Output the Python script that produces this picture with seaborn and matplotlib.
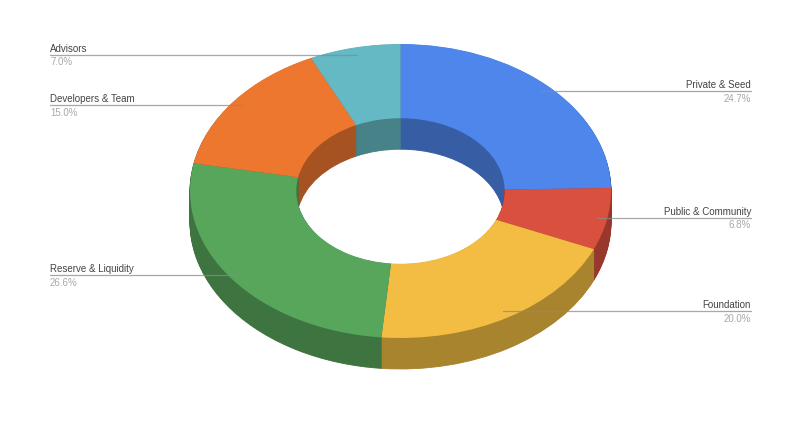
import numpy as np
import seaborn as sns
from matplotlib import pyplot as plt

categories = ['Private & Seed', 'Public & Community', 'Foundation', 'Reserve & Liquidity', 'Developers & Team', 'Advisors']
shares = [24.7, 6.8, 20.0, 26.6, 15.0, 7.0]
colors = ['#4F86EC', '#D9503F', '#F2BD42', '#58A55C', '#ED772F', '#65B9C4']

sns.set_theme(style='white')
plt.rcParams['font.family'] = ['Liberation Sans', 'DejaVu Sans']

# unit circle maps on to the ellipse of the top face
cx, cy, rx, ry = 400.5, 192, 210.5, 147
W, H = 800, 431
depth = 31 / ry

palette = sns.color_palette(colors)
dark = [tuple(c * 0.7 for c in col) for col in palette]

fig = plt.figure(figsize=(W / 100, H / 100), dpi=100)
ax = fig.add_axes([0, 0, 1, 1])

# side walls: stack of dark rings going up to the top face
for off in np.linspace(depth, 0, 40)[:-1]:
    wedges, _ = ax.pie(shares, colors=dark, startangle=90, counterclock=False, center=(0, -off),
                       wedgeprops={'width': 0.505, 'linewidth': 0.6})
    for w in wedges:
        w.set_edgecolor(w.get_facecolor())
ax.pie(shares, colors=palette, startangle=90, counterclock=False,
       wedgeprops={'width': 0.505, 'linewidth': 0})

ax.set_aspect('auto')
ax.set_xlim((0 - cx) / rx, (W - cx) / rx)
ax.set_ylim((cy - H) / ry, cy / ry)

# leader lines and labels
total = sum(shares)
mids = (np.cumsum(shares) - np.array(shares) / 2) / total * 2 * np.pi
left_x = (50 - cx) / rx
right_x = (751 - cx) / rx
for name, val, mid in zip(categories, shares, mids):
    ax_x = 0.95 * np.sin(mid)
    ax_y = 0.95 * np.cos(mid)
    if mid > np.pi:
        end, ha = left_x, 'left'
    else:
        end, ha = right_x, 'right'
    ax.plot([ax_x, end], [ax_y, ax_y], color='#8a8a8a', lw=0.9, alpha=0.75, zorder=5)
    ax.annotate(name, (end, ax_y), xytext=(0, 1.5), textcoords='offset points', ha=ha, va='bottom',
                fontsize=7, color='#444444')
    ax.annotate(f'{val:.1f}%', (end, ax_y), xytext=(0, -1.2), textcoords='offset points', ha=ha, va='top',
                fontsize=7, color='#a8a8a8')

fig.savefig('out.png', dpi=100, facecolor='white')
